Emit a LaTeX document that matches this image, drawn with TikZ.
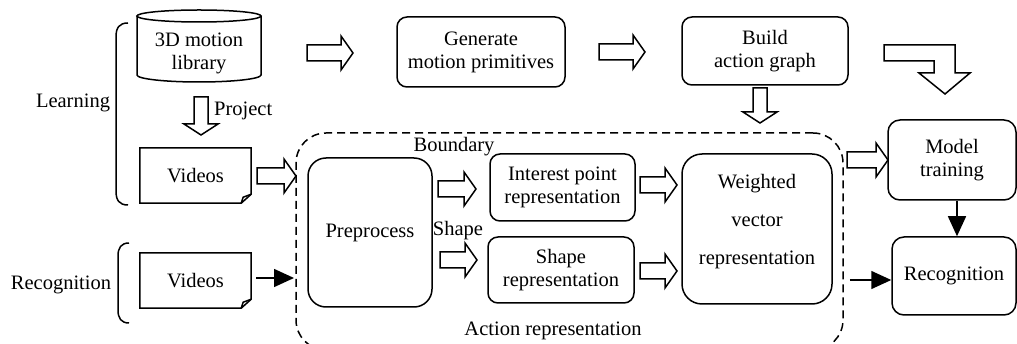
\documentclass[tikz,border=0pt]{standalone}
\usepackage{fontspec}
\setmainfont{Liberation Serif}
\usetikzlibrary{arrows.meta,calc}
\begin{document}
\begin{tikzpicture}[x=1pt,y=-1pt,
  every node/.style={font=\fontsize{20.5}{23}\selectfont},
  lw/.style={line width=1.5pt},
  box/.style={lw, draw, rounded corners=#1, align=center, inner sep=0pt},
  box/.default=10pt,
  plain/.style={inner sep=0pt},
  blk/.style={lw, draw, fill=white, line join=miter},
  solid arrow/.style={lw, -{Triangle[length=20pt,width=18pt]}},
  dashbox/.style={lw, draw, dash pattern=on 8pt off 5pt, rounded corners=30pt, inner sep=0pt},
  pics/rblk/.style={code={\draw[blk] (0,-8)--({#1-12},-8)--({#1-12},-17)--(#1,0)--({#1-12},17)--({#1-12},8)--(0,8)--cycle;}},
  pics/dblk/.style={code={\draw[blk] (-7,0)--(-7,{#1-11})--(-17,{#1-11})--(0,#1)--(17,{#1-11})--(7,{#1-11})--(7,0)--cycle;}}
]
\useasboundingbox (0,0) rectangle (1017,344);

% dashed action representation region
\node[dashbox, minimum width=547pt, minimum height=217pt] (act) at (569.5,241.5) {};
\node[plain] (actlbl) at (553,331) {Action representation};

% cylinder: 3D motion library
\node[plain, minimum width=124pt, minimum height=66pt] (cyl) at (199,46) {};
\draw[lw] (137,16) -- (137,75) arc[start angle=180, end angle=0, x radius=62, y radius=7] -- (261,16);
\draw[lw] (199,16) ellipse[x radius=62, y radius=6];
\node[plain, align=center] (cyltxt) at (199,53) {3D motion\\library};

% documents: Videos
\node[plain, minimum width=111pt, minimum height=55pt] (vid1) at (195.5,175.5) {Videos};
\draw[lw] (vid1.north west) -- (vid1.north east) -- ($(vid1.south east)+(0,-9)$) -- ($(vid1.south east)+(-10,0)$) -- (vid1.south west) -- cycle;
\draw[lw] ($(vid1.south east)+(-10,0)$) -- ($(vid1.south east)+(-8,-6)$) -- ($(vid1.south east)+(0,-9)$);

\node[plain, minimum width=111pt, minimum height=55pt] (vid2) at (195.5,280.5) {Videos};
\draw[lw] (vid2.north west) -- (vid2.north east) -- ($(vid2.south east)+(0,-9)$) -- ($(vid2.south east)+(-10,0)$) -- (vid2.south west) -- cycle;
\draw[lw] ($(vid2.south east)+(-10,0)$) -- ($(vid2.south east)+(-8,-6)$) -- ($(vid2.south east)+(0,-9)$);

% braces and side labels
\draw[lw] (128,23) .. controls (119,23) and (116,28) .. (116,37) -- (116,191) .. controls (116,200) and (119,205) .. (128,205);
\draw[lw] (129,243) .. controls (121,243) and (118,248) .. (118,256) -- (118,310) .. controls (118,318) and (121,323) .. (129,323);
\node[plain] (learn) at (73,103) {Learning};
\node[plain] (recoglbl) at (61,285) {Recognition};

% top row boxes
\node[box, minimum width=168pt, minimum height=70pt] (gen) at (481,52) {Generate\\motion primitives};
\node[box, minimum width=166pt, minimum height=68pt] (build) at (765,51) {Build\\action graph};

% inner boxes
\node[box=18pt, minimum width=124pt, minimum height=149pt] (pre) at (370,232.5) {Preprocess};
\node[box, minimum width=145pt, minimum height=67pt] (interest) at (562.5,187.5) {Interest point\\representation};
\node[box, minimum width=146pt, minimum height=66pt] (shaperep) at (561,270) {Shape\\representation};
\node[box=20pt, minimum width=150pt, minimum height=150pt] (weighted) at (757,229) {};
\node[plain, align=center, font=\fontsize{20.5}{38}\selectfont] (weightedtxt) at (757,222) {Weighted\\vector\\representation};

\node[plain] (bnd) at (454,147) {Boundary};
\node[plain] (shp) at (458,231) {Shape};
\node[plain, anchor=west] (proj) at (214,111) {Project};

% right boxes
\node[box=12pt, minimum width=128pt, minimum height=80pt] (model) at (952,160) {Model\\training};
\node[box=12pt, minimum width=124pt, minimum height=78pt] (recog) at (954,276) {Recognition};

% hollow block arrows
\pic at (307,53) {rblk=46};
\pic at (599,52) {rblk=46};
\pic at (257,176) {rblk=39};
\pic at (438,189) {rblk=38};
\pic at (440,260) {rblk=37};
\pic at (640,185) {rblk=37};
\pic at (640,271) {rblk=37};
\pic at (847,160) {rblk=41};
\pic at (201,97) {dblk=38};
\pic at (760,88) {dblk=35};
\draw[blk] (884,45)--(955,45)--(955,73)--(970,73)--(945,94)--(919,73)--(934,73)--(934,61)--(884,61)--cycle;

% solid arrows
\coordinate (vidend) at (294,278);
\draw[solid arrow, shorten <=5pt] (vid2.east |- vidend) -- (vidend);
\coordinate (mr) at (957,0);
\draw[solid arrow] (model.south -| mr) -- (recog.north -| mr);
\coordinate (recend) at (recog.west |- 0,280);
\draw[solid arrow] (act.east |- recend) ++(6,0) -- (recend);
\end{tikzpicture}
\end{document}
